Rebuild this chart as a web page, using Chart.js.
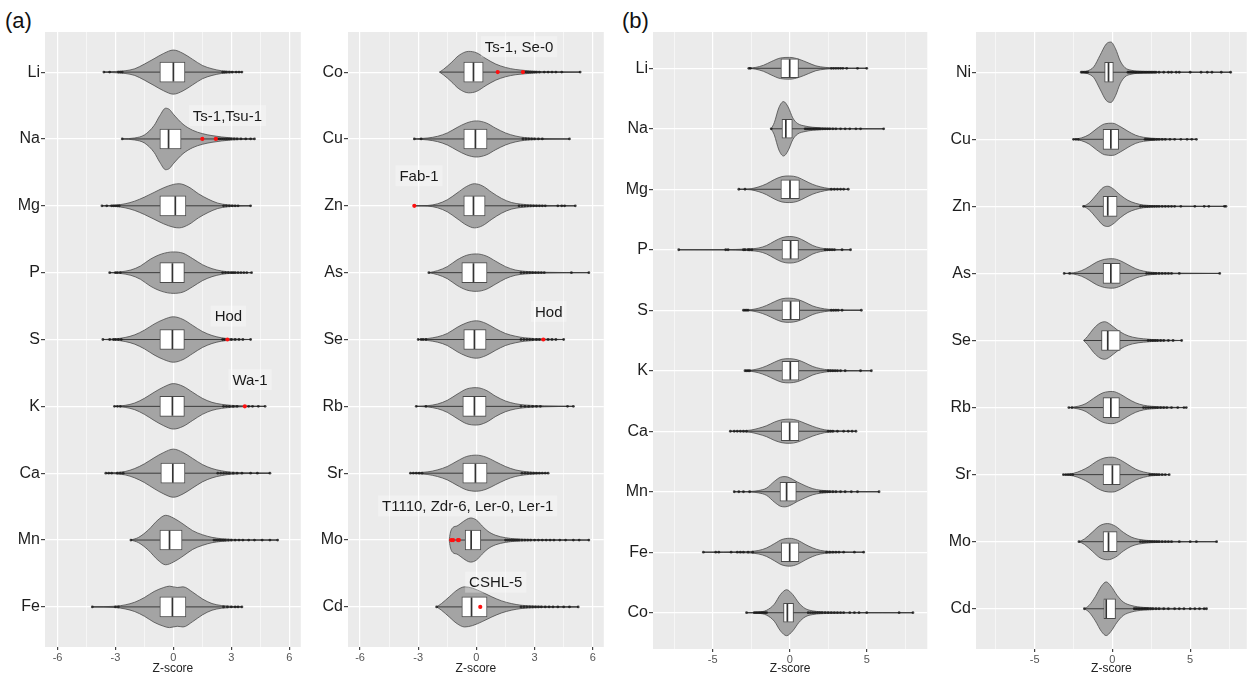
<!DOCTYPE html>
<html><head><meta charset="utf-8">
<script src="https://cdn.jsdelivr.net/npm/chart.js@4.4.1/dist/chart.umd.min.js"></script>
<style>
html,body{margin:0;padding:0;background:#fff;width:1258px;height:677px;overflow:hidden;font-family:"Liberation Sans",Arial,sans-serif;}
canvas{position:absolute;top:0;}
.tag{position:absolute;font-size:22px;color:#111;line-height:22px;font-family:"Liberation Sans",Arial,sans-serif;}
</style></head><body>
<div class="tag" style="left:5px;top:10px">(a)</div>
<div class="tag" style="left:622px;top:10px">(b)</div>
<canvas id="c1" width="312" height="677" style="left:0px"></canvas>
<canvas id="c2" width="303" height="677" style="left:312px"></canvas>
<canvas id="c3" width="323" height="677" style="left:615px"></canvas>
<canvas id="c4" width="320" height="677" style="left:938px"></canvas>
<script>
// ---------------- DATA ----------------
// Tick values
const majorTicksA = [-6, -3, 0, 3, 6];
const minorTicksA = [-4.5, -1.5, 1.5, 4.5];
const majorTicksB = [-5, 0, 5];
const minorTicksB = [-7.5, -2.5, 2.5, 7.5];
const xLimA1 = [-6.65, 6.6];
const xLimA2 = [-6.62, 6.57];
const xLimB1 = [-8.87, 8.93];
const xLimB2 = [-8.77, 8.64];

// Panel (a) left
const catsA1 = ['Li','Na','Mg','P','S','K','Ca','Mn','Fe'];
// violin profiles: [z, half-width in category units]
const violinA1 = [
 [[-3.6,0],[-3,0.01],[-2.5,0.02],[-2,0.05],[-1.5,0.12],[-1,0.2],[-0.5,0.28],[0,0.33],[0.5,0.28],[1,0.19],[1.5,0.1],[2,0.05],[2.5,0.02],[3,0.01],[3.55,0]],
 [[-2.65,0],[-2,0.015],[-1.5,0.06],[-1,0.2],[-0.7,0.35],[-0.4,0.46],[-0.2,0.44],[0,0.37],[0.5,0.22],[1,0.13],[1.5,0.08],[2,0.05],[2.5,0.03],[3,0.015],[3.5,0.008],[4.2,0]],
 [[-3.7,0],[-3,0.01],[-2.5,0.03],[-2,0.07],[-1.5,0.13],[-1,0.2],[-0.5,0.27],[0,0.32],[0.3,0.33],[0.8,0.28],[1.3,0.18],[1.8,0.1],[2.3,0.04],[2.8,0.015],[3.3,0.005],[4.0,0]],
 [[-3.3,0],[-2.8,0.01],[-2.2,0.04],[-1.7,0.1],[-1.2,0.2],[-0.6,0.28],[0,0.31],[0.5,0.29],[1,0.21],[1.5,0.12],[2,0.06],[2.5,0.025],[3,0.01],[4.05,0]],
 [[-3.65,0],[-3,0.01],[-2.5,0.03],[-2,0.07],[-1.5,0.14],[-1,0.23],[-0.5,0.3],[0,0.34],[0.5,0.3],[1,0.21],[1.5,0.12],[2,0.06],[2.5,0.025],[3,0.01],[4,0]],
 [[-3.05,0],[-2.5,0.015],[-2,0.05],[-1.5,0.12],[-1,0.21],[-0.5,0.29],[0,0.34],[0.5,0.3],[1,0.21],[1.5,0.12],[2,0.06],[2.5,0.03],[3,0.015],[3.7,0.006],[4.75,0]],
 [[-3.5,0],[-3,0.01],[-2.5,0.025],[-2,0.07],[-1.5,0.14],[-1,0.23],[-0.5,0.31],[0,0.36],[0.5,0.31],[1,0.22],[1.5,0.13],[2,0.07],[2.5,0.035],[3,0.015],[4,0.005],[5,0]],
 [[-2.2,0],[-1.8,0.04],[-1.3,0.15],[-0.8,0.3],[-0.4,0.37],[0,0.33],[0.5,0.24],[1,0.14],[1.5,0.08],[2,0.04],[2.5,0.02],[3,0.01],[4,0.004],[5.4,0]],
 [[-4.2,0],[-3,0.01],[-2.5,0.03],[-2,0.07],[-1.5,0.14],[-1,0.23],[-0.5,0.29],[-0.2,0.31],[0.2,0.29],[0.5,0.3],[1,0.22],[1.5,0.12],[2,0.05],[2.5,0.02],[3.55,0]]
];
const q1A1  = [-0.7,-0.7,-0.7,-0.7,-0.7,-0.7,-0.65,-0.7,-0.7];
const medA1 = [0,-0.25,0.1,-0.05,-0.05,-0.05,-0.03,-0.2,-0.05];
const q3A1  = [0.6,0.4,0.65,0.57,0.57,0.57,0.6,0.45,0.65];
const ptsA1 = [
 [-3.6,-3.3,-2.85,-2.75,-2.65,2.55,2.65,2.75,2.9,3.05,3.25,3.4,3.55],
 [-2.65,2.2,2.3,2.4,2.5,2.6,2.7,2.8,2.9,3.0,3.15,3.3,3.5,3.75,4.0,4.2],
 [-3.7,-3.45,-3.2,-3.1,-3.0,-2.9,-2.8,2.6,2.75,2.9,3.05,3.2,3.35,4.0],
 [-3.3,-3.0,-2.9,-2.75,2.55,2.7,2.85,3.0,3.1,3.2,3.35,3.5,3.65,3.8,4.05],
 [-3.65,-3.3,-3.1,-3.0,-2.85,-2.7,2.55,2.65,3.0,3.2,3.4,3.6,4.0],
 [-3.05,-2.9,-2.75,2.6,2.75,2.9,3.1,3.3,3.9,4.1,4.4,4.75],
 [-3.5,-3.35,-3.2,-2.9,-2.75,-2.6,2.3,2.45,2.6,2.75,2.9,3.1,3.3,3.55,4.0,4.35,5.0],
 [-2.2,2.1,2.2,2.3,2.4,2.5,2.6,2.7,2.85,3.0,3.2,3.4,3.6,3.9,4.2,4.6,5.0,5.4],
 [-4.2,-3.0,-2.85,2.6,2.8,3.0,3.2,3.35,3.55]
];
const redA1 = [[],[1.5,2.2],[],[],[2.8],[3.7],[],[],[]];
const noteTextA1 = ['Ts-1,Tsu-1','Hod','Wa-1'];
const noteXA1 = [2.8, 2.85, 3.97];
const noteYA1 = [0.65, 3.65, 4.6];

// Panel (a) right
const catsA2 = ['Co','Cu','Zn','As','Se','Rb','Sr','Mo','Cd'];
const violinA2 = [
 [[-1.9,0],[-1.7,0.04],[-1.3,0.14],[-0.9,0.25],[-0.4,0.31],[0,0.29],[0.5,0.2],[1,0.12],[1.5,0.07],[2,0.04],[2.5,0.025],[3,0.012],[4,0.005],[5.35,0]],
 [[-3.2,0],[-2.5,0.015],[-2,0.04],[-1.5,0.09],[-1,0.17],[-0.5,0.24],[0,0.27],[0.5,0.24],[1,0.16],[1.5,0.09],[2,0.045],[2.5,0.02],[3,0.01],[4.8,0]],
 [[-3.2,0],[-2.5,0.005],[-2,0.03],[-1.5,0.09],[-1,0.19],[-0.5,0.29],[-0.1,0.33],[0.3,0.3],[0.8,0.2],[1.3,0.11],[1.8,0.05],[2.3,0.025],[3,0.01],[4,0.004],[5.1,0]],
 [[-2.45,0],[-2,0.03],[-1.5,0.09],[-1,0.19],[-0.5,0.26],[0,0.28],[0.5,0.25],[1,0.17],[1.5,0.09],[2,0.04],[2.5,0.02],[3.5,0.006],[5.8,0]],
 [[-3.0,0],[-2.5,0.015],[-2,0.04],[-1.5,0.09],[-1,0.18],[-0.5,0.25],[0,0.28],[0.5,0.24],[1,0.16],[1.5,0.09],[2,0.05],[2.5,0.025],[3.5,0.008],[4.5,0]],
 [[-3.1,0],[-2.5,0.01],[-2,0.035],[-1.5,0.09],[-1,0.18],[-0.5,0.26],[0,0.28],[0.5,0.24],[1,0.15],[1.5,0.08],[2,0.04],[2.5,0.02],[3.5,0.007],[5,0]],
 [[-3.4,0],[-2.5,0.02],[-2,0.05],[-1.5,0.1],[-1,0.18],[-0.5,0.25],[0,0.27],[0.5,0.24],[1,0.17],[1.5,0.1],[2,0.05],[2.5,0.025],[3,0.012],[3.7,0]],
 [[-1.4,0],[-1.35,0.1],[-1.2,0.19],[-1.0,0.21],[-0.8,0.25],[-0.5,0.31],[-0.3,0.33],[0,0.3],[0.3,0.21],[0.6,0.13],[1,0.07],[1.5,0.035],[2,0.018],[3,0.008],[4.5,0.004],[5.8,0]],
 [[-2.05,0],[-1.8,0.05],[-1.4,0.15],[-1,0.25],[-0.6,0.3],[-0.2,0.28],[0.3,0.22],[0.8,0.15],[1.3,0.09],[1.8,0.05],[2.3,0.025],[3,0.012],[4,0.005],[5.25,0]]
];
const q1A2  = [-0.65,-0.65,-0.65,-0.75,-0.65,-0.7,-0.7,-0.58,-0.75];
const medA2 = [-0.15,-0.05,-0.15,-0.15,-0.1,-0.1,-0.05,-0.27,-0.25];
const q3A2  = [0.35,0.55,0.45,0.55,0.5,0.5,0.55,0.23,0.55];
const ptsA2 = [
 [2.4,2.5,2.6,2.7,2.8,2.9,3.0,3.1,3.25,3.5,3.7,3.9,4.1,4.4,5.35],
 [-3.2,-2.85,2.4,2.55,2.7,2.85,3.0,3.2,3.4,4.8],
 [2.2,2.35,2.5,2.65,2.8,2.95,3.1,3.25,3.4,3.55,4.2,4.4,4.55,5.1],
 [-2.45,2.3,2.45,2.6,2.75,2.9,3.05,3.2,3.35,3.5,4.9,5.8],
 [-3.0,-2.85,-2.75,-2.6,2.3,2.45,2.6,2.75,2.9,3.1,3.25,3.7,3.9,4.1,4.5],
 [-3.1,-2.6,2.3,2.5,2.7,2.9,3.1,3.3,4.7,5.0],
 [-3.4,-3.25,-3.1,-2.95,-2.8,2.35,2.5,2.65,2.8,2.95,3.1,3.25,3.4,3.55,3.7],
 [1.5,1.6,1.7,1.8,1.9,2.0,2.1,2.2,2.35,2.5,2.65,2.8,3.0,3.2,3.4,3.6,3.8,4.0,4.3,4.6,5.0,5.3,5.8],
 [-2.05,2.3,2.45,2.6,2.75,2.9,3.05,3.2,3.35,3.55,3.75,3.95,4.2,4.5,4.8,5.25]
];
const redA2 = [[1.1,2.4],[],[-3.2],[],[3.45],[],[],[-1.3,-1.2,-0.95,-0.9],[0.2]];
const noteTextA2 = ['Ts-1, Se-0','Fab-1','Hod','T1110, Zdr-6, Ler-0, Ler-1','CSHL-5'];
const noteXA2 = [2.2, -2.96, 3.73, -0.45, 1.0];
const noteYA2 = [-0.38, 1.55, 3.58, 6.49, 7.63];

// Panel (b) left
const catsB1 = ['Li','Na','Mg','P','S','K','Ca','Mn','Fe','Co'];
const violinB1 = [
 [[-2.65,0],[-2.2,0.015],[-1.7,0.05],[-1.2,0.11],[-0.6,0.17],[0,0.18],[0.6,0.15],[1.2,0.09],[1.7,0.04],[2.3,0.015],[3,0.005],[5,0]],
 [[-1.2,0],[-1,0.1],[-0.7,0.35],[-0.4,0.45],[-0.1,0.36],[0.2,0.18],[0.5,0.09],[1,0.045],[1.5,0.025],[2.5,0.01],[4,0.004],[6.1,0]],
 [[-3.3,0],[-2.5,0.01],[-2,0.04],[-1.5,0.09],[-1,0.16],[-0.5,0.21],[0,0.22],[0.5,0.2],[1,0.14],[1.5,0.08],[2,0.04],[2.5,0.015],[3.8,0]],
 [[-7.2,0],[-4,0.003],[-3,0.01],[-2,0.03],[-1.5,0.07],[-1,0.14],[-0.5,0.2],[0,0.22],[0.5,0.2],[1,0.14],[1.5,0.07],[2,0.03],[2.5,0.012],[3.95,0]],
 [[-3.0,0],[-2.5,0.01],[-2,0.035],[-1.5,0.08],[-1,0.14],[-0.5,0.19],[0,0.2],[0.5,0.18],[1,0.13],[1.5,0.07],[2,0.035],[2.5,0.015],[3.2,0.006],[4.65,0]],
 [[-2.9,0],[-2.5,0.01],[-2,0.035],[-1.5,0.08],[-1,0.14],[-0.5,0.19],[0,0.2],[0.5,0.18],[1,0.13],[1.5,0.07],[2,0.035],[2.5,0.015],[3.5,0.005],[5.3,0]],
 [[-3.85,0],[-3,0.008],[-2.5,0.02],[-2,0.05],[-1.5,0.09],[-1,0.15],[-0.5,0.19],[0,0.2],[0.5,0.18],[1,0.13],[1.5,0.08],[2,0.04],[2.5,0.015],[3.5,0.005],[4.3,0]],
 [[-3.6,0],[-2.5,0.006],[-2,0.02],[-1.5,0.06],[-1,0.17],[-0.6,0.24],[-0.3,0.25],[0,0.23],[0.5,0.16],[1,0.1],[1.5,0.05],[2,0.025],[3,0.008],[5.8,0]],
 [[-5.6,0],[-3,0.008],[-2,0.03],[-1.5,0.07],[-1,0.14],[-0.5,0.21],[0,0.23],[0.5,0.2],[1,0.13],[1.5,0.07],[2,0.03],[3,0.008],[4.8,0]],
 [[-2.8,0],[-2,0.01],[-1.5,0.04],[-1,0.14],[-0.6,0.3],[-0.2,0.38],[0.2,0.3],[0.6,0.16],[1,0.07],[1.5,0.03],[2.5,0.012],[4,0.004],[8,0]]
];
const q1B1  = [-0.57,-0.5,-0.57,-0.5,-0.5,-0.5,-0.55,-0.63,-0.55,-0.4];
const medB1 = [0,-0.25,0.02,0.06,0.06,0.04,0,-0.2,0,-0.15];
const q3B1  = [0.57,0.17,0.63,0.57,0.65,0.6,0.6,0.43,0.6,0.25];
const ptsB1 = [
 [-2.65,-2.55,2.7,2.85,3.0,3.15,3.3,3.45,3.7,4.4,5.0],
 [-1.2,1.0,1.1,1.2,1.3,1.4,1.5,1.6,1.7,1.8,1.9,2.0,2.15,2.3,2.45,2.6,2.8,3.0,3.3,3.6,3.9,4.3,4.6,6.1],
 [-3.3,-2.9,2.7,2.9,3.1,3.3,3.5,3.8],
 [-7.2,-4.15,-4.0,-3.0,-2.9,-2.7,-2.6,-2.45,2.3,2.45,2.6,2.75,2.9,3.4,3.95],
 [-3.0,-2.9,-2.8,-2.7,2.7,2.85,3.0,3.15,3.4,4.65],
 [-2.9,-2.8,-2.7,-2.6,2.5,2.65,2.8,2.95,3.1,3.3,3.6,4.6,5.3],
 [-3.85,-3.6,-3.4,-3.2,-3.0,-2.8,2.5,2.65,2.8,3.1,3.5,3.8,4.05,4.3],
 [-3.6,-3.3,-3.0,-2.6,2.0,2.15,2.3,2.45,2.6,2.8,3.0,3.3,3.6,4.0,4.4,5.8],
 [-5.6,-4.8,-4.6,-3.8,-3.4,-3.2,-3.0,-2.7,-2.4,2.4,2.6,2.8,3.0,3.2,3.5,4.2,4.8],
 [-2.8,-2.3,-2.2,-2.1,-2.0,-1.9,-1.8,-1.7,-1.6,-1.5,1.2,1.35,1.5,1.65,1.8,1.95,2.1,2.3,2.5,2.7,2.9,3.1,3.3,3.5,3.9,4.2,4.5,5.0,7.1,8.0]
];
const redB1 = [[],[],[],[],[],[],[],[],[],[]];

// Panel (b) right
const catsB2 = ['Ni','Cu','Zn','As','Se','Rb','Sr','Mo','Cd'];
const violinB2 = [
 [[-2.0,0],[-1.6,0.02],[-1.2,0.08],[-0.8,0.25],[-0.4,0.42],[-0.1,0.45],[0.2,0.35],[0.5,0.17],[0.8,0.07],[1.2,0.03],[2,0.012],[3.5,0.005],[7.6,0]],
 [[-2.5,0],[-2,0.02],[-1.5,0.07],[-1,0.16],[-0.5,0.23],[0,0.24],[0.5,0.19],[1,0.12],[1.5,0.06],[2,0.03],[3,0.01],[5.4,0]],
 [[-1.85,0],[-1.5,0.05],[-1,0.18],[-0.6,0.28],[-0.3,0.3],[0,0.27],[0.5,0.17],[1,0.09],[1.5,0.045],[2,0.02],[3,0.008],[5,0.003],[7.3,0]],
 [[-3.1,0],[-2.5,0.01],[-2,0.04],[-1.5,0.1],[-1,0.17],[-0.5,0.21],[0,0.22],[0.5,0.19],[1,0.13],[1.5,0.07],[2,0.035],[3,0.01],[5,0.003],[6.9,0]],
 [[-1.85,0],[-1.6,0.06],[-1.2,0.18],[-0.8,0.26],[-0.5,0.28],[-0.2,0.25],[0.3,0.16],[0.8,0.09],[1.3,0.05],[2,0.025],[3,0.01],[4.45,0]],
 [[-2.8,0],[-2.2,0.02],[-1.7,0.06],[-1.2,0.14],[-0.6,0.22],[0,0.24],[0.5,0.2],[1,0.13],[1.5,0.07],[2,0.035],[3,0.012],[4.75,0]],
 [[-3.15,0],[-2.5,0.02],[-2,0.06],[-1.5,0.12],[-1,0.2],[-0.5,0.25],[0,0.26],[0.5,0.22],[1,0.15],[1.5,0.08],[2,0.04],[2.5,0.018],[3.65,0]],
 [[-2.15,0],[-1.8,0.04],[-1.3,0.14],[-0.8,0.24],[-0.3,0.27],[0.2,0.23],[0.7,0.14],[1.2,0.07],[1.7,0.035],[2.5,0.015],[4,0.005],[6.7,0]],
 [[-1.8,0],[-1.5,0.05],[-1.1,0.18],[-0.7,0.34],[-0.4,0.4],[-0.1,0.34],[0.3,0.2],[0.7,0.1],[1.2,0.05],[2,0.02],[3.5,0.007],[6.05,0]]
];
const q1B2  = [-0.5,-0.6,-0.6,-0.6,-0.7,-0.6,-0.6,-0.6,-0.55];
const medB2 = [-0.25,-0.1,-0.3,-0.1,-0.3,-0.1,0,-0.25,-0.4];
const q3B2  = [0.06,0.4,0.3,0.5,0.5,0.45,0.5,0.3,0.2];
const ptsB2 = [
 [-2.0,-1.9,-1.8,-1.7,-1.6,1.0,1.1,1.2,1.3,1.4,1.5,1.6,1.7,1.8,1.9,2.0,2.1,2.2,2.3,2.4,2.5,2.6,2.7,2.8,3.0,3.3,3.6,3.8,4.1,4.3,5.0,5.7,6.1,6.4,7.0,7.6],
 [-2.5,-2.35,-2.2,2.1,2.2,2.3,2.4,2.5,2.6,2.7,2.85,3.0,3.2,3.4,3.7,4.0,4.4,4.8,5.1,5.4],
 [-1.85,1.8,1.95,2.1,2.25,2.4,2.55,2.7,2.85,3.0,3.2,3.4,3.6,3.8,4.0,4.4,5.3,5.9,6.2,7.2,7.3],
 [-3.1,-2.75,2.2,2.35,2.5,2.65,2.8,3.0,3.2,3.4,3.6,3.8,4.3,6.9],
 [2.3,2.45,2.6,2.75,2.9,3.1,3.3,3.6,3.9,4.45],
 [-2.8,-2.6,2.0,2.15,2.3,2.45,2.6,2.75,2.9,3.1,3.3,3.5,3.8,4.2,4.6,4.75],
 [-3.15,-3.0,-2.85,-2.7,-2.55,2.4,2.55,2.7,2.85,3.0,3.2,3.4,3.65],
 [-2.15,1.8,1.95,2.1,2.25,2.4,2.55,2.7,2.85,3.0,3.2,3.4,3.6,3.8,4.3,5.0,5.4,6.7],
 [-1.8,1.4,1.5,1.6,1.7,1.8,1.9,2.0,2.1,2.2,2.3,2.45,2.6,2.8,3.0,3.3,3.6,4.0,4.3,4.6,5.0,5.3,5.6,5.9,6.05]
];
const redB2 = [[],[],[],[],[],[],[],[],[]];

// ---------------- DRAWING ----------------
const FONT = '"Liberation Sans", Arial, Helvetica, sans-serif';
const VIOLIN_FILL = '#a4a4a4', LINE_COL = '#4a4a4a';

const panelBg = {
  id: 'panelBg',
  beforeDraw(chart) {
    const {ctx, chartArea: a} = chart;
    ctx.save(); ctx.fillStyle = '#ebebeb';
    ctx.fillRect(a.left, a.top, a.right - a.left, a.bottom - a.top);
    ctx.restore();
  }
};

function notesPlugin(texts, xs, ys) {
  return {
    id: 'notes',
    afterDatasetsDraw(chart) {
      const {ctx, scales: {x, y}} = chart;
      ctx.save();
      ctx.font = '15px ' + FONT;
      ctx.textAlign = 'center'; ctx.textBaseline = 'middle';
      texts.forEach((t, k) => {
        const px = x.getPixelForValue(xs[k]), py = y.getPixelForValue(ys[k]);
        const w = ctx.measureText(t).width + 8, h = 21;
        ctx.fillStyle = 'rgba(255,255,255,0.3)';
        ctx.fillRect(px - w / 2, py - h / 2, w, h);
        ctx.fillStyle = '#1a1a1a';
        ctx.fillText(t, px, py + 1);
      });
      ctx.restore();
    }
  };
}

function buildPanel(id, cats, violins, q1, med, q3, pts, reds, notes, xlim, majors, minors, L) {
  const ds = [];
  violins.forEach((prof, i) => {
    ds.push({type: 'line', data: prof.map(p => ({x: p[0], y: i - p[1]})), borderColor: LINE_COL, borderWidth: 0.8,
      pointRadius: 0, fill: false, cubicInterpolationMode: 'monotone', order: 6});
    ds.push({type: 'line', data: prof.map(p => ({x: p[0], y: i + p[1]})), borderColor: LINE_COL, borderWidth: 0.8,
      pointRadius: 0, fill: '-1', backgroundColor: VIOLIN_FILL, cubicInterpolationMode: 'monotone', order: 6});
  });
  const cl = [];
  violins.forEach((prof, i) => {
    const a = prof[0][0], b = prof[prof.length - 1][0];
    cl.push({x: a, y: i}, {x: b, y: i}, {x: b, y: null});
  });
  ds.push({type: 'line', data: cl, borderColor: '#3c3c3c', borderWidth: 1, pointRadius: 0, fill: false, spanGaps: false, order: 5});
  ds.push({type: 'bar', indexAxis: 'y', data: cats.map((c, i) => ({y: i, x: [q1[i], q3[i]]})),
    backgroundColor: '#ffffff', borderColor: LINE_COL, borderWidth: 1, borderSkipped: false, barThickness: L.box, grouped: false, order: 4});
  ds.push({type: 'scatter', data: med.map((m, i) => ({x: m, y: i})), pointStyle: 'line', pointRotation: 90,
    pointRadius: L.box / 2 - 0.5, pointBorderColor: '#333333', pointBorderWidth: 1.7, order: 3});
  const pd = [];
  pts.forEach((arr, i) => arr.forEach(z => pd.push({x: z, y: i})));
  ds.push({type: 'scatter', data: pd, pointRadius: 1.4, pointBackgroundColor: 'rgba(25,25,25,0.8)', pointBorderWidth: 0, order: 2});
  const rd = [];
  reds.forEach((arr, i) => arr.forEach(z => rd.push({x: z, y: i})));
  ds.push({type: 'scatter', data: rd, pointRadius: 2.1, pointBackgroundColor: '#ff1010', pointBorderWidth: 0, order: 1});

  const allX = majors.concat(minors).sort((a, b) => a - b);
  new Chart(document.getElementById(id), {
    type: 'line',
    data: {datasets: ds},
    options: {
      responsive: false, animation: false, events: [],
      layout: {padding: {left: 0, right: L.padR, top: 32, bottom: 0}},
      plugins: {legend: {display: false}, tooltip: {enabled: false}},
      scales: {
        x: {
          type: 'linear', min: xlim[0], max: xlim[1], offset: false,
          afterBuildTicks: s => { s.ticks = allX.map(v => ({value: v})); },
          afterFit: s => { s.height = L.xh; },
          ticks: {autoSkip: false, maxRotation: 0, padding: 1, color: '#555', font: {family: FONT, size: 11},
            callback: v => majors.includes(v) ? String(v) : ''},
          grid: {offset: false, color: '#ffffff', lineWidth: c => majors.includes(c.tick.value) ? 1.2 : 0.55,
            tickLength: 3, tickColor: c => majors.includes(c.tick.value) ? '#444' : 'rgba(0,0,0,0)'},
          border: {display: false},
          title: {display: true, text: 'Z-score', color: '#222', font: {family: FONT, size: 12}, padding: {top: 0, bottom: 1}}
        },
        y: {
          type: 'linear', reverse: true, min: -0.6, max: cats.length - 0.4, offset: false,
          afterBuildTicks: s => { s.ticks = cats.map((c, i) => ({value: i})); },
          afterFit: s => { s.width = L.yw; },
          ticks: {autoSkip: false, padding: 1, color: '#1e1e1e', font: {family: FONT, size: 16},
            callback: v => cats[v] !== undefined ? cats[v] : ''},
          grid: {offset: false, color: '#ffffff', lineWidth: 1.2, tickLength: 4, tickColor: '#444'},
          border: {display: false}
        }
      }
    },
    plugins: [panelBg, notesPlugin(notes[0], notes[1], notes[2])]
  });
}

buildPanel('c1', catsA1, violinA1, q1A1, medA1, q3A1, ptsA1, redA1, [noteTextA1, noteXA1, noteYA1], xLimA1, majorTicksA, minorTicksA,
  {yw: 45, padR: 2, xh: 30, box: 20});
buildPanel('c2', catsA2, violinA2, q1A2, medA2, q3A2, ptsA2, redA2, [noteTextA2, noteXA2, noteYA2], xLimA2, majorTicksA, minorTicksA,
  {yw: 36, padR: 2, xh: 30, box: 20});
buildPanel('c3', catsB1, violinB1, q1B1, medB1, q3B1, ptsB1, redB1, [[], [], []], xLimB1, majorTicksB, minorTicksB,
  {yw: 38, padR: 2, xh: 28, box: 19});
buildPanel('c4', catsB2, violinB2, q1B2, medB2, q3B2, ptsB2, redB2, [[], [], []], xLimB2, majorTicksB, minorTicksB,
  {yw: 38, padR: 0, xh: 28, box: 20});
</script>
</body></html>
